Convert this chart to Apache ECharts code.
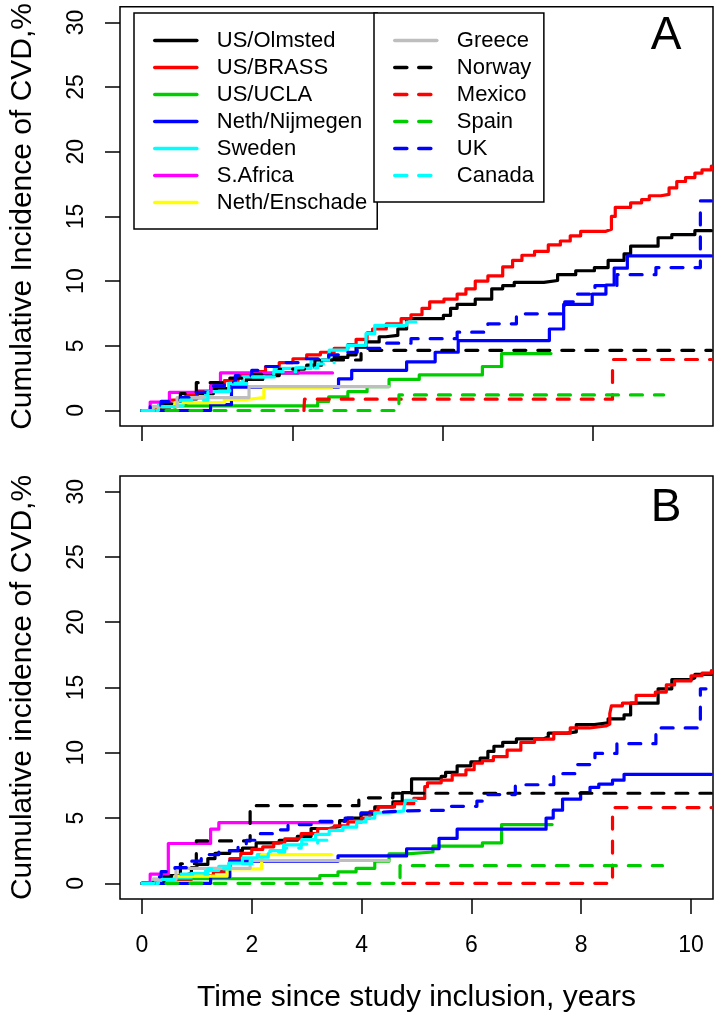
<!DOCTYPE html>
<html><head><meta charset="utf-8">
<script src="https://cdn.jsdelivr.net/npm/echarts@6/dist/echarts.min.js"></script>
<style>html,body{margin:0;padding:0;background:#fff}#c{width:718px;height:1022px}</style>
</head><body><div id="c"></div>
<script>
// ---- categories / styles of cohorts ----
const cohorts = ['US/Olmsted','US/BRASS','US/UCLA','Neth/Nijmegen','Sweden','S.Africa','Neth/Enschade',
                 'Greece','Norway','Mexico','Spain','UK','Canada'];
const colors  = ['#000000','#FF0000','#00CD00','#0000FF','#00FFFF','#FF00FF','#FFFF00',
                 '#BEBEBE','#000000','#FF0000','#00CD00','#0000FF','#00FFFF'];
const dashed  = [false,false,false,false,false,false,false,false,true,true,true,true,true];

// ---- tick values ----
const yTicks = [0,5,10,15,20,25,30];
const xTicksA = [0, 1000/365.25, 2000/365.25, 3000/365.25];   // unlabeled ticks of panel A
const xTicksB = [0,2,4,6,8,10];

// ---- Panel A: [years, cumulative incidence %] ----
const olmstedA = [[0,0],[0.2,0.2],[0.5,0.5],[0.8,0.9],[1.0,1.3],[1.3,1.7],[1.6,2.1],[1.9,2.4],[2.2,2.7],[2.5,2.9],[2.85,3.25],[3.0,3.5],[3.27,3.9],[3.5,4.1],[3.75,4.3],[3.9,4.9],[4.08,5.3],[4.32,5.7],[4.44,5.8],[4.66,6.3],[4.82,7.1],[5.49,7.35],[5.62,7.9],[5.74,8.2],[6.07,8.6],[6.37,9.4],[6.57,9.65],[6.78,9.9],[7.32,10.05],[7.57,10.5],[7.9,10.8],[8.24,11.05],[8.49,11.6],[8.78,12.1],[8.9,12.7],[9.4,13.35],[9.65,13.6],[10.07,13.9],[10.37,13.9]];
const brassA = [[0,0],[0.1,0.1],[0.3,0.4],[0.5,0.8],[0.8,1.2],[1.0,1.5],[1.25,1.9],[1.5,2.3],[1.75,2.7],[2.0,3.0],[2.25,3.4],[2.5,3.7],[2.75,4.0],[3.0,4.3],[3.25,4.5],[3.5,4.8],[3.75,5.1],[3.9,5.5],[4.1,6.0],[4.2,6.3],[4.45,6.7],[4.72,7.1],[4.9,7.4],[5.1,7.9],[5.24,8.4],[5.5,8.6],[5.74,9.0],[5.9,9.4],[6.07,10.0],[6.3,10.4],[6.57,11.1],[6.75,11.6],[6.92,12.0],[7.15,12.3],[7.4,12.8],[7.62,13.1],[7.8,13.5],[7.99,13.85],[8.45,14.0],[8.55,15.0],[8.62,15.7],[8.9,16.05],[9.1,16.3],[9.24,16.6],[9.45,16.7],[9.6,17.2],[9.74,17.7],[9.9,18.0],[10.07,18.35],[10.2,18.6],[10.37,18.9]];
const uclaA = [[0,0],[0.6,0.35],[3.2,0.7],[3.4,1.05],[3.75,1.45],[4.1,1.85],[4.5,2.4],[5.05,2.75],[6.2,3.4],[6.55,4.4],[7.45,4.4]];
const nijmegenA = [[0,0],[1.25,0.45],[1.63,1.8],[3.58,2.45],[3.82,3.1],[4.82,3.76],[5.34,4.5],[5.76,5.4],[7.42,6.3],[7.68,8.2],[8.2,9.0],[8.45,9.7],[8.6,11.0],[8.84,11.95],[10.37,11.95]];
const swedenA = [[0,0],[0.3,0.4],[0.75,0.95],[1.16,1.46],[1.58,2.1],[1.83,2.6],[2.41,3.25],[3.08,3.9],[3.41,4.66],[3.74,5.04],[4.08,5.94],[4.24,6.58],[4.82,6.84],[4.99,6.84]];
const safricaA = [[0,0],[0.15,0.65],[0.5,1.4],[1.26,2.1],[1.43,2.9],[3.47,2.9]];
const enschadeA = [[0,0],[0.2,0.3],[0.6,0.6],[1.5,0.85],[1.9,1.0],[2.22,1.72],[3.45,1.72]];
const greeceA = [[0,0],[0.2,0.3],[0.64,1.0],[1.95,1.85],[4.5,1.85]];
const norwayA = [[0,0],[0.35,0.5],[0.7,1.3],[0.99,2.15],[1.6,2.5],[2.0,2.8],[2.5,3.2],[3.15,3.9],[3.99,4.65],[10.37,4.65]];
const mexicoA = [[2.95,0],[2.96,0.87],[8.57,3.94],[10.37,3.94]];
const spainA = [[0,0],[4.68,1.2],[9.5,1.2]];
const ukA = [[0,0],[0.15,0.3],[0.35,0.7],[0.7,1.0],[1.0,1.4],[1.25,1.9],[1.5,2.2],[1.7,2.7],[2.0,3.1],[2.25,3.4],[2.5,3.7],[2.9,4.0],[3.4,4.3],[3.75,4.5],[3.92,4.8],[4.44,5.2],[4.9,5.55],[5.74,6.05],[6.3,6.7],[6.82,7.47],[7.7,8.4],[7.9,9.0],[8.25,9.65],[8.65,10.5],[9.36,11.05],[10.17,16.2],[10.37,16.2]];
const canadaA = [[0,0],[0.3,0.3],[0.7,0.8],[1.2,1.5],[1.6,2.1],[2.0,2.6],[2.4,3.0],[2.8,3.3],[3.2,3.6],[3.5,3.7]];

// ---- Panel B ----
const olmstedB = [[0,0],[0.2,0.3],[0.5,0.6],[0.75,0.75],[0.9,1.2],[1.0,1.45],[1.2,1.9],[1.33,2.3],[1.6,2.5],[1.83,2.7],[2.08,3.1],[2.5,3.3],[2.83,3.6],[3.08,4.2],[3.41,4.35],[3.6,4.8],[3.74,5.0],[3.99,5.3],[4.24,5.85],[4.57,6.25],[4.74,6.95],[4.91,8.0],[5.45,8.2],[5.53,8.5],[5.74,9.0],[5.99,9.3],[6.16,9.6],[6.3,10.1],[6.41,10.5],[6.57,10.8],[6.82,11.07],[7.32,11.2],[7.4,11.5],[7.74,11.6],[7.91,12.15],[8.24,12.3],[8.49,12.6],[8.78,12.9],[8.9,13.8],[9.35,13.8],[9.4,14.9],[9.65,15.6],[10.0,15.75],[10.07,16.0],[10.37,16.0]];
const brassB = [[0,0],[0.4,0.3],[0.9,0.6],[1.3,0.9],[1.55,1.2],[1.6,1.9],[1.8,2.3],[2.0,2.6],[2.2,2.8],[2.4,3.1],[2.6,3.4],[2.9,3.8],[3.2,4.2],[3.5,4.4],[3.75,4.7],[4.0,5.0],[4.15,5.5],[4.3,5.85],[4.6,6.1],[4.95,6.5],[5.15,7.4],[5.2,7.7],[5.45,7.9],[5.65,8.3],[5.9,8.7],[6.05,9.2],[6.2,9.4],[6.4,9.7],[6.65,10.2],[6.9,10.8],[7.15,11.05],[7.5,11.5],[7.8,11.9],[8.15,12.05],[8.45,12.2],[8.52,13.0],[8.55,13.6],[8.75,13.8],[9.0,14.4],[9.35,14.65],[9.55,15.2],[9.7,15.5],[10.0,15.9],[10.2,16.1],[10.37,16.3]];
const uclaB = [[0,0],[0.4,0.35],[3.24,0.6],[3.57,0.88],[3.9,1.15],[4.24,1.7],[4.5,2.25],[4.82,2.4],[5.3,2.85],[6.2,3.1],[6.55,4.5],[7.47,4.5]];
const nijmegenB = [[0,0],[1.25,0.5],[1.6,1.7],[3.57,2.1],[4.82,2.65],[5.41,3.45],[5.74,4.15],[7.36,5.0],[7.49,5.6],[7.66,6.45],[7.99,6.95],[8.16,7.35],[8.32,7.6],[8.57,7.9],[8.78,8.35],[10.37,8.35]];
const swedenB = [[0,0],[0.3,0.25],[0.58,0.47],[0.9,0.75],[1.16,1.0],[1.4,1.3],[1.58,1.55],[1.83,1.95],[2.1,2.2],[2.33,2.5],[2.58,2.95],[2.91,3.35],[3.16,3.75],[3.41,4.05],[3.66,4.3],[3.91,4.7],[4.08,5.0],[4.24,5.4],[4.5,5.55],[4.77,5.75],[4.8,6.35],[4.99,6.35]];
const safricaB = [[0,0],[0.15,0.7],[0.48,3.05],[1.25,4.15],[1.4,4.65],[3.46,4.65]];
const enschadeB = [[0,0],[0.2,0.35],[0.6,0.55],[1.55,1.1],[2.18,2.2],[3.45,2.2]];
const greeceB = [[0,0],[0.2,0.3],[0.62,1.15],[1.97,1.75],[4.5,1.75]];
const norwayB = [[0,0],[0.4,0.5],[0.7,1.5],[0.99,3.25],[1.97,5.95],[3.95,6.55],[4.57,6.9],[10.37,6.9]];
const mexicoB = [[4.75,0],[8.57,5.8],[10.37,5.8]];
const spainB = [[0,0],[4.7,1.35],[9.48,1.35]];
const ukB = [[0,0],[0.2,0.5],[0.35,0.9],[0.6,1.2],[0.9,1.7],[1.08,2.2],[1.4,2.5],[1.75,3.0],[1.9,3.3],[2.15,3.8],[2.4,4.1],[2.66,4.5],[3.24,4.75],[3.7,5.0],[3.99,5.4],[4.15,5.55],[4.75,5.6],[5.6,5.9],[6.1,6.3],[6.2,6.8],[6.8,7.55],[7.5,8.4],[7.9,9.1],[8.25,9.95],[8.65,10.7],[9.36,11.9],[10.17,14.9],[10.37,14.9]];
const canadaB = [[0,0],[0.3,0.3],[0.7,0.7],[1.2,1.1],[1.6,1.5],[2.0,2.0],[2.3,2.4],[2.6,2.7],[2.9,3.0],[3.2,3.3],[3.5,3.5]];

const dataA = [olmstedA,brassA,uclaA,nijmegenA,swedenA,safricaA,enschadeA,greeceA,norwayA,mexicoA,spainA,ukA,canadaA];
const dataB = [olmstedB,brassB,uclaB,nijmegenB,swedenB,safricaB,enschadeB,greeceB,norwayB,mexicoB,spainB,ukB,canadaB];

const FONT = '"Liberation Sans", Arial, Helvetica, sans-serif';
const chart = echarts.init(document.getElementById('c'), null, {renderer:'canvas'});

function mkSeries(data, i, g) {
  return {
    type:'line', name: cohorts[i], xAxisIndex:g, yAxisIndex:g, data: data,
    step:'end', symbol:'none', showSymbol:false, silent:true, animation:false, z: 3,
    lineStyle:{color: colors[i], width:3.2, type: dashed[i] ? [12,12] : 'solid', cap:'round', join:'round'},
    itemStyle:{color: colors[i]}
  };
}
const series = [];
dataA.forEach((d,i)=>series.push(mkSeries(d,i,0)));
dataB.forEach((d,i)=>series.push(mkSeries(d,i,1)));

function xAxisOf(g, ticks, labels) {
  const ax = {
    gridIndex:g, type:'value', min:-0.4, max:10.4,
    axisLine:{show:false, onZero:false}, splitLine:{show:false},
    axisTick:{show:true, length:15, customValues:ticks, lineStyle:{color:'#000', width:1.5}},
    axisLabel:{show:labels}
  };
  if (labels) {
    ax.axisLabel = {show:true, customValues:ticks, fontSize:23, color:'#000', margin:35, fontFamily:FONT};
    ax.name = 'Time since study inclusion, years';
    ax.nameLocation = 'middle'; ax.nameGap = 84;
    ax.nameTextStyle = {fontSize:30, color:'#000', fontFamily:FONT};
  }
  return ax;
}
function yAxisOf(g, title) {
  return {
    gridIndex:g, type:'value', min:-1.2, max:31.2,
    axisLine:{show:false, onZero:false}, splitLine:{show:false},
    axisTick:{show:true, length:15, customValues:yTicks, lineStyle:{color:'#000', width:1.5}},
    axisLabel:{show:true, customValues:yTicks, rotate:90, fontSize:23, color:'#000', margin:32, fontFamily:FONT},
    name:title, nameLocation:'middle', nameRotate:90, nameGap:82,
    nameTextStyle:{fontSize:30, color:'#000', fontFamily:FONT}
  };
}

const legendCommon = {
  orient:'vertical', itemWidth:42, itemHeight:14, itemGap:0, selectedMode:false,
  borderColor:'#000', borderWidth:1.5, backgroundColor:'#fff', borderRadius:0,
  itemStyle:{opacity:0},
  lineStyle:{width:3.6},
  textStyle:{fontSize:22, lineHeight:27, color:'#000', fontFamily:FONT, padding:[0,0,0,15]}
};

chart.setOption({
  animation:false,
  backgroundColor:'#fff',
  grid:[
    {left:120, top:4, width:593, height:422, show:true, borderColor:'#000', borderWidth:1.5, backgroundColor:'transparent'},
    {left:120, top:476, width:593, height:423, show:true, borderColor:'#000', borderWidth:1.5, backgroundColor:'transparent'}
  ],
  xAxis:[xAxisOf(0, xTicksA, false), xAxisOf(1, xTicksB, true)],
  yAxis:[yAxisOf(0,'Cumulative Incidence of CVD,%'), yAxisOf(1,'Cumulative incidence of CVD,%')],
  legend:[
    Object.assign({}, legendCommon, {data:cohorts.slice(0,7), left:134, top:13, padding:[14,10,13,19], z:10}),
    Object.assign({}, legendCommon, {data:cohorts.slice(7), left:374, top:13, padding:[14,10,13,19], z:11})
  ],
  graphic:[
    {type:'text', x:666, y:36, z:20, style:{text:'A', fontSize:46, fontFamily:FONT, fill:'#000', textAlign:'center', textVerticalAlign:'middle'}},
    {type:'text', x:666, y:508, z:20, style:{text:'B', fontSize:46, fontFamily:FONT, fill:'#000', textAlign:'center', textVerticalAlign:'middle'}}
  ],
  series: series
});
</script>
</body></html>
